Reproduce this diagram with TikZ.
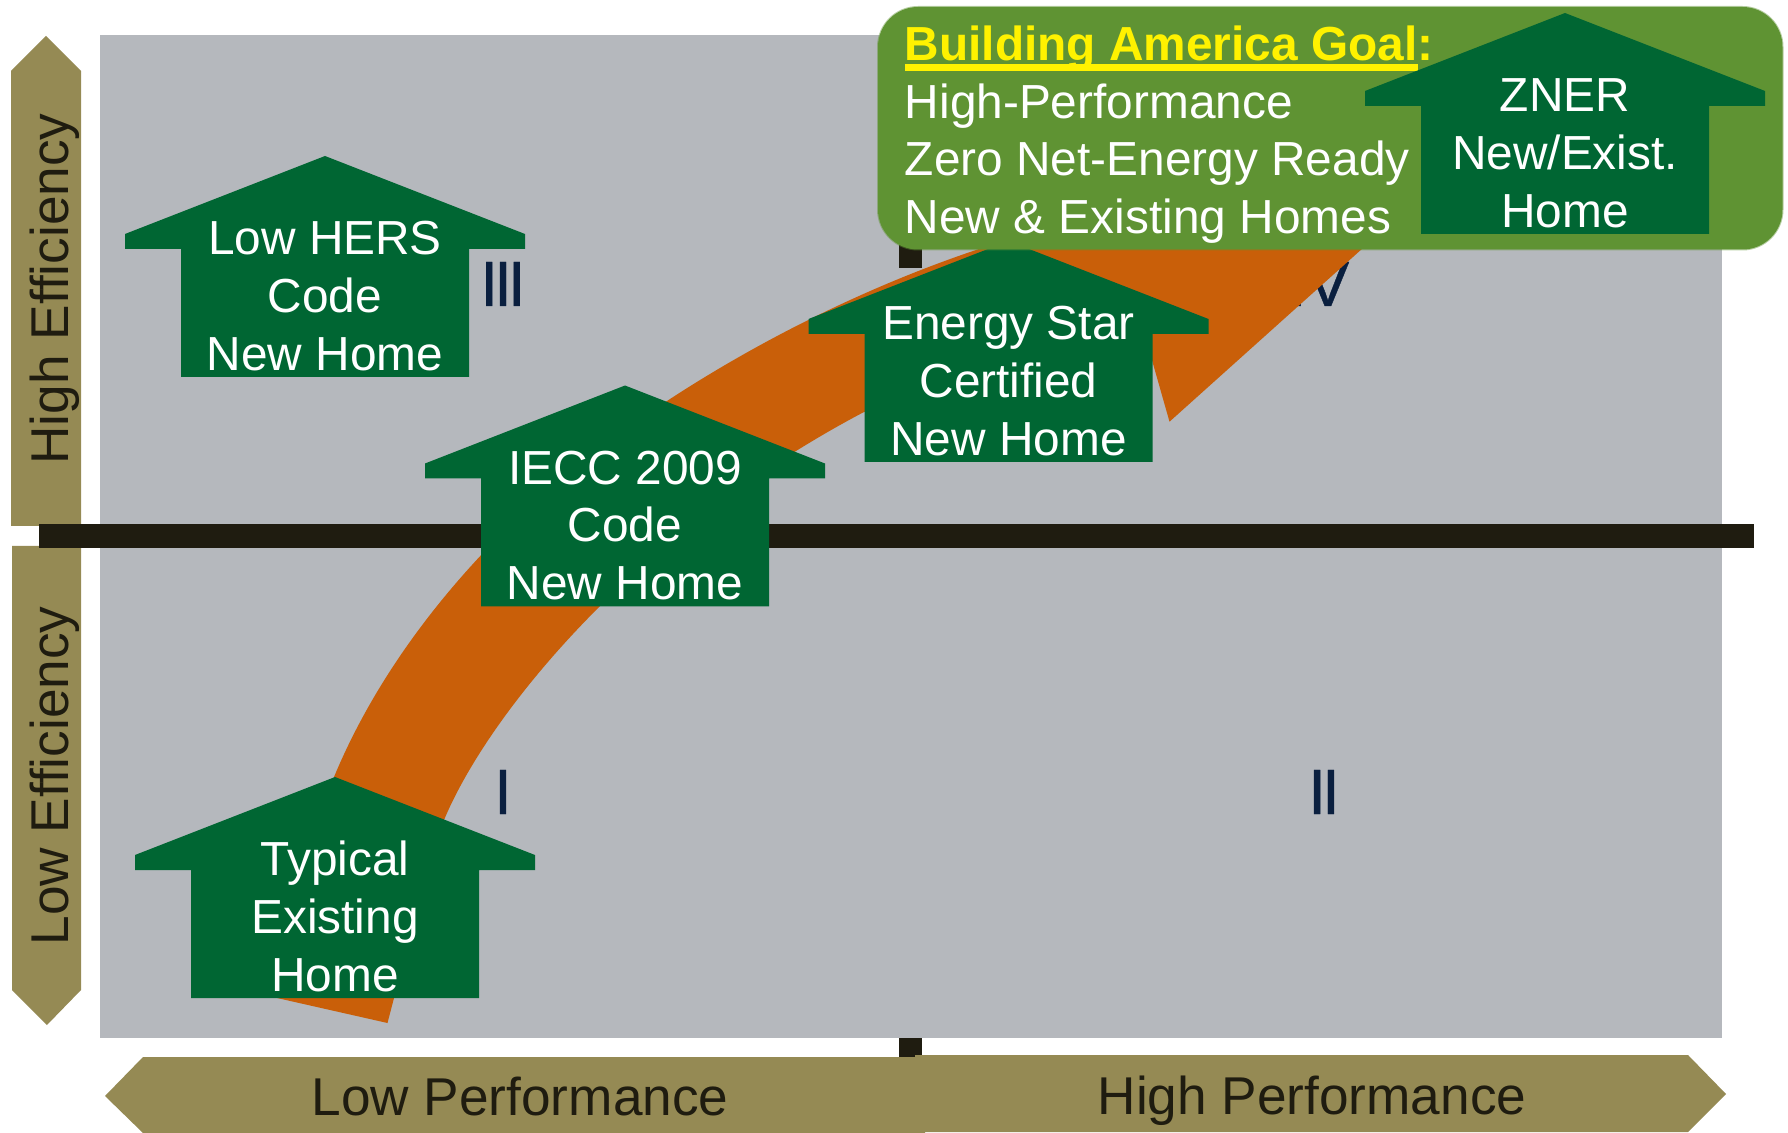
\documentclass[tikz,border=0pt]{standalone}
\usepackage{fontspec}
\setmainfont{Liberation Sans}
\definecolor{panelgray}{HTML}{B5B8BD}
\definecolor{barblack}{HTML}{1F1C10}
\definecolor{khaki}{HTML}{958A54}
\definecolor{housegreen}{HTML}{006633}
\definecolor{goalgreen}{HTML}{5F9333}
\definecolor{trend}{HTML}{C95F09}
\definecolor{navy}{HTML}{0A1F3F}
\tikzset{
  housetext/.style={anchor=south,inner sep=0pt,text depth=0pt,align=center,text=white,font=\fontsize{23.9}{28.85}\selectfont},
  goaltext/.style={anchor=south west,inner sep=0pt,text depth=0pt,align=left,text=white,font=\fontsize{23.9}{28.85}\selectfont},
  axistext/.style={anchor=base,inner sep=0pt,text=barblack,font=\fontsize{26.6}{30}\selectfont},
  quadrant/.style={anchor=base,inner sep=0pt,text=navy,font=\fontsize{32}{36}\selectfont\addfontfeature{FakeBold=0.6}},
}
\newcommand{\greenhouse}[4]{%
  \fill[housegreen] (#2,#3) -- (#2+200,#3+78) -- (#2+200,#3+93) -- (#2+144,#3+93) -- (#2+144,#3+221)
    -- (#2-144,#3+221) -- (#2-144,#3+93) -- (#2-200,#3+93) -- (#2-200,#3+78) -- cycle;
  \node[housetext] (#1) at (#2,#3+214.5) {#4};
}
\begin{document}
\begin{tikzpicture}[x=0.5pt,y=-0.5pt]
\useasboundingbox (0,0) rectangle (1788,1133);
% panel
\fill[panelgray] (100,35) rectangle (1722,1038);
% axis arrows
\fill[khaki] (46,36) -- (81,71) -- (81,526) -- (11,526) -- (11,71) -- cycle;
\fill[khaki] (12,546) -- (81,546) -- (81,990) -- (47,1025) -- (12,990) -- cycle;
\fill[khaki] (105,1096) -- (143,1057) -- (925,1057) -- (925,1133) -- (143,1133) -- cycle;
% axis bars
\fill[barblack] (39,524) rectangle (1754,548);
\fill[barblack] (899,1038) rectangle (922,1057);
\fill[barblack] (899,240) rectangle (922,268);
\fill[khaki] (915,1055) -- (1688,1055) -- (1726,1094) -- (1688,1132) -- (915,1132) -- cycle;
\node[axistext,rotate=90] (highEff) at (68,289) {High Efficiency};
\node[axistext,rotate=90] (lowEff) at (68,776) {Low Efficiency};
\node[axistext] (lowPerf) at (520,1115) {Low Performance};
\node[axistext] (highPerf) at (1312,1114) {High Performance};
% quadrants
\node[quadrant] (qIII) at (503,306) {I\kern-2pt I\kern-2pt I};
\node[quadrant] (qIV) at (1319,306) {IV};
\node[quadrant] (qI) at (503,814) {I};
\node[quadrant] (qII) at (1324,814) {I\kern-2pt I};
% trend arrow
\fill[trend] (277,998) -- (387.5,1023) -- (400,975) -- (444,820)
  .. controls (490,710) and (640,530) .. (864,412)
  -- (1142,325) -- (1169.5,421.7) -- (1363,248) -- (1420,190) -- (1000,240) -- (982,248)
  .. controls (870,285) and (760,340) .. (667,401)
  .. controls (520,495) and (395,630) .. (334,777) -- cycle;
% houses
\greenhouse{typical}{335}{777}{Typical\\Existing\\Home}
\greenhouse{lowhers}{325}{156}{Low HERS\\Code\\New Home}
\greenhouse{iecc}{625}{385.5}{IECC 2009\\Code\\New Home}
\greenhouse{estar}{1008.5}{241}{Energy Star\\Certified\\New Home}
% goal callout
\draw[goalgreen,opacity=.45,line width=1pt,rounded corners=20pt] (878,7) rectangle (1782.5,249.5);
\fill[goalgreen,rounded corners=20pt] (878,7) rectangle (1782.5,249.5);
\node[goaltext] (goal) at (904.5,234) {{\bfseries\color{yellow}\setbox0\hbox{Building America Goal}\rlap{\rule[-5.3pt]{\wd0}{3.3pt}}\box0:}\\High-Performance\\Zero Net-Energy Ready\\New \& Existing Homes};
\greenhouse{zner}{1565}{13}{ZNER\\New/Exist.\\Home}
\end{tikzpicture}
\end{document}
